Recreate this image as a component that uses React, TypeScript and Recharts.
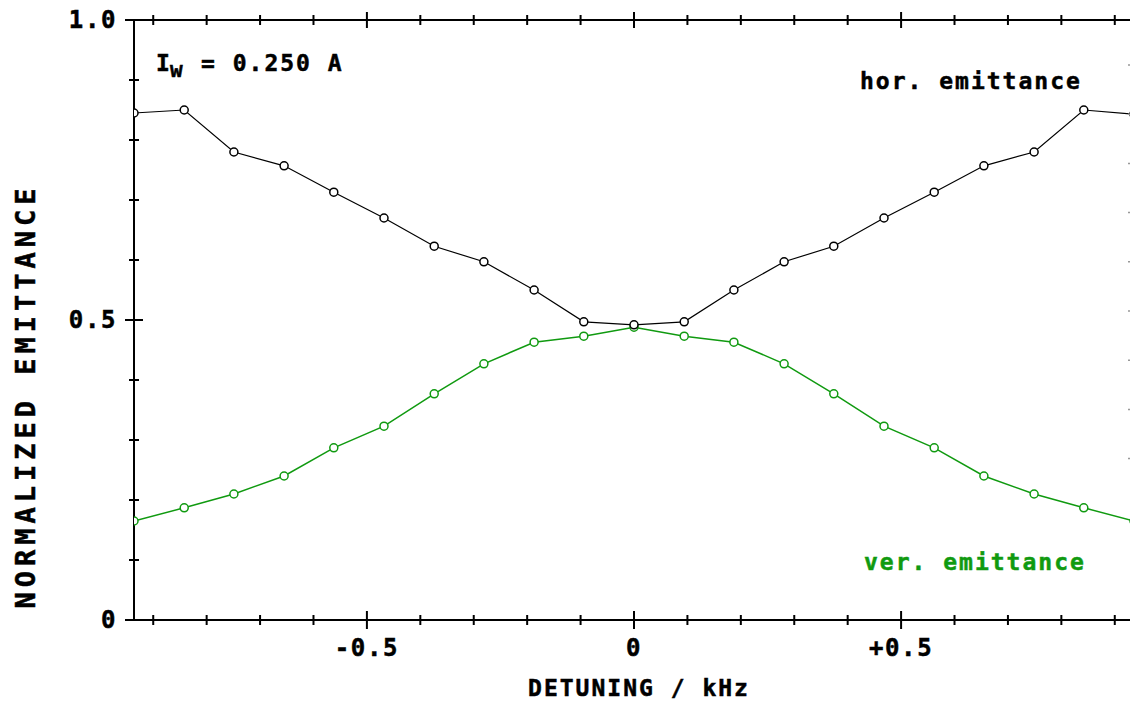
import React from "react";
import { LineChart, Line, XAxis, YAxis } from "recharts";

const detuning = [-0.936, -0.842, -0.749, -0.655, -0.562, -0.468, -0.374, -0.281, -0.187, -0.094, 0, 0.094, 0.187, 0.281, 0.374, 0.468, 0.562, 0.655, 0.749, 0.842, 0.936];
const horEmittance = [0.845, 0.85, 0.78, 0.757, 0.713, 0.67, 0.623, 0.597, 0.55, 0.497, 0.492, 0.497, 0.55, 0.597, 0.623, 0.67, 0.713, 0.757, 0.78, 0.85, 0.843];
const verEmittance = [0.165, 0.187, 0.21, 0.24, 0.287, 0.323, 0.377, 0.427, 0.463, 0.473, 0.488, 0.473, 0.463, 0.427, 0.377, 0.323, 0.287, 0.24, 0.21, 0.187, 0.165];

const xTicks = [-0.9, -0.8, -0.7, -0.6, -0.5, -0.4, -0.3, -0.2, -0.1, 0, 0.1, 0.2, 0.3, 0.4, 0.5, 0.6, 0.7, 0.8, 0.9];
const xMajor: Record<string, string> = { "-0.5": "-0.5", "0": "0", "0.5": "+0.5" };
const yTicks = [0, 0.1, 0.2, 0.3, 0.4, 0.5, 0.6, 0.7, 0.8, 0.9, 1.0];
const yMajor: Record<string, string> = { "0": "0", "0.5": "0.5", "1": "1.0" };
const rightTicks = [0.925, 0.843, 0.761, 0.679, 0.597, 0.515, 0.433, 0.351, 0.269];

const data = detuning.map((d, i) => ({ d, hor: horEmittance[i], ver: verEmittance[i] }));

const FONT = "'DejaVu Sans Mono', 'Liberation Mono', monospace";
const GREEN = "#109a10";

const BottomTick = (props: any) => {
  const { x, y, payload } = props;
  const key = String(payload.value);
  const major = key in xMajor;
  const len = major ? 9 : 5;
  return (
    <g>
      <line x1={x} x2={x} y1={y - len} y2={y + len} stroke="#000" strokeWidth={2} />
      {major && (
        <text x={x} y={y + 36} textAnchor="middle" fontFamily={FONT} fontWeight="bold" fontSize={24} letterSpacing={1.6} fill="#000" stroke="#000" strokeWidth={0.5}>
          {xMajor[key]}
        </text>
      )}
    </g>
  );
};

const TopTick = (props: any) => {
  const { x, y, payload } = props;
  const key = String(payload.value);
  const major = key in xMajor;
  const len = major ? 8 : 5;
  return <line x1={x} x2={x} y1={y - len} y2={y + len} stroke="#000" strokeWidth={2} />;
};

const LeftTick = (props: any) => {
  const { x, y, payload } = props;
  const key = String(payload.value);
  const major = key in yMajor;
  return (
    <g>
      <line x1={major ? x - 9 : x - 5} x2={x + (major ? 9 : 5)} y1={y} y2={y} stroke="#000" strokeWidth={2} />
      {major && (
        <text x={x - 17} y={y + 8} textAnchor="end" fontFamily={FONT} fontWeight="bold" fontSize={24} letterSpacing={1.6} fill="#000" stroke="#000" strokeWidth={0.5}>
          {yMajor[key]}
        </text>
      )}
    </g>
  );
};

const RightTick = (props: any) => {
  const { x, y } = props;
  return <line x1={x - 6} x2={x} y1={y} y2={y} stroke="#999" strokeWidth={1.5} />;
};

export default function App() {
  return (
    <div style={{ position: "absolute", left: 0, top: 0, width: 1130, height: 702, overflow: "hidden", background: "#fff" }}>
      <LineChart width={1150} height={702} data={data} margin={{ top: 10, right: 6, bottom: 42, left: 74 }}>
        <XAxis
          dataKey="d"
          type="number"
          domain={[-0.936, 0.936]}
          allowDataOverflow
          ticks={xTicks}
          interval={0}
          height={40}
          tickSize={0}
          tickMargin={0}
          tickLine={false}
          axisLine={{ stroke: "#000", strokeWidth: 2 }}
          tick={<BottomTick />}
        />
        <XAxis
          xAxisId="t"
          orientation="top"
          dataKey="d"
          type="number"
          domain={[-0.936, 0.936]}
          allowDataOverflow
          ticks={xTicks}
          interval={0}
          height={10}
          tickSize={0}
          tickMargin={0}
          tickLine={false}
          axisLine={{ stroke: "#000", strokeWidth: 2 }}
          tick={<TopTick />}
        />
        <YAxis
          type="number"
          domain={[0, 1]}
          allowDataOverflow
          ticks={yTicks}
          interval={0}
          width={60}
          tickSize={0}
          tickMargin={0}
          tickLine={false}
          axisLine={{ stroke: "#000", strokeWidth: 2 }}
          tick={<LeftTick />}
        />
        <YAxis
          yAxisId="r"
          orientation="right"
          type="number"
          domain={[0, 1]}
          allowDataOverflow
          ticks={rightTicks}
          interval={0}
          width={10}
          tickSize={0}
          tickMargin={0}
          tickLine={false}
          axisLine={{ stroke: "#000", strokeWidth: 2 }}
          tick={<RightTick />}
        />
        <Line
          dataKey="ver"
          type="linear"
          stroke={GREEN}
          strokeWidth={1.5}
          dot={{ r: 4, fill: "#fff", stroke: GREEN, strokeWidth: 1.5 }}
          isAnimationActive={false}
        />
        <Line
          dataKey="hor"
          type="linear"
          stroke="#000"
          strokeWidth={1.2}
          dot={{ r: 4, fill: "#fff", stroke: "#000", strokeWidth: 1.5 }}
          isAnimationActive={false}
        />
      </LineChart>
      <svg width={1130} height={702} style={{ position: "absolute", left: 0, top: 0, pointerEvents: "none" }}>
        <g fontFamily={FONT} fontWeight="bold" fontSize={23} letterSpacing={2} strokeWidth={0.5}>
          <text x={156} y={71} fill="#000" stroke="#000">I</text>
          <text x={170} y={77} fill="#000" stroke="#000" fontSize={21}>w</text>
          <text x={201} y={71} fill="#000" stroke="#000">= 0.250 A</text>
          <text x={860} y={89} fill="#000" stroke="#000">hor. emittance</text>
          <text x={864} y={570} fill={GREEN} stroke={GREEN}>ver. emittance</text>
          <text x={639} y={696} fill="#000" stroke="#000" textAnchor="middle">DETUNING / kHz</text>
          <text x={35} y={396} fill="#000" stroke="#000" textAnchor="middle" fontSize={27} letterSpacing={5} transform="rotate(-90, 35, 396)">
            NORMALIZED EMITTANCE
          </text>
        </g>
      </svg>
    </div>
  );
}
